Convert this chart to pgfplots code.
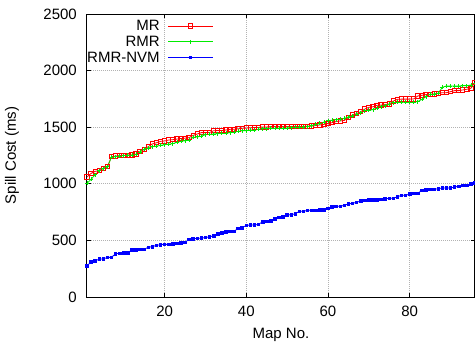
\documentclass[border=0pt]{standalone}
\usepackage{fontspec}
\setmainfont{Liberation Sans}
\usepackage{pgfplots}
\pgfplotsset{compat=1.18}
\definecolor{gpred}{RGB}{255,0,0}
\definecolor{gpgreen}{RGB}{0,235,0}
\definecolor{gpblue}{RGB}{0,0,255}
\begin{document}
\begin{tikzpicture}[font=\fontsize{15}{17}\selectfont]
\begin{axis}[
  at={(0,0)}, anchor=south west,
  scale only axis, width=388pt, height=283pt,
  xmin=1, xmax=96, ymin=0, ymax=2500,
  xtick={20,40,60,80}, ytick={0,500,1000,1500,2000,2500},
  /pgf/number format/assume math mode=true,
  /pgf/number format/1000 sep={},
  grid=major, grid style={dash pattern=on 1pt off 1pt, gray!60, line width=0.7pt},
  tick align=inside, major tick length=4pt,
  tick style={black, line width=0.8pt},
  axis line style={line width=1pt},
  xticklabel style={inner sep=0pt, anchor=north, yshift=-9pt},
  yticklabel style={inner sep=0pt, anchor=east, xshift=-10pt},
  xlabel={Map No.}, ylabel={Spill Cost (ms)},
  xlabel style={at={(axis description cs:0.5,-0.1095)}, anchor=north, inner sep=0pt},
  ylabel style={at={(axis description cs:-0.175,0.5)}, anchor=south, inner sep=0pt},
  legend plot pos=right,
  legend cell align=right,
  legend image code/.code={\draw[mark repeat=2,mark phase=2,#1] plot coordinates {(0pt,0pt) (22.5pt,0pt) (45pt,0pt)};},
  legend style={at={(axis description cs:0,1)}, anchor=north west, xshift=-2pt, yshift=-4pt,
    draw=none, fill=none, inner sep=0pt,
    nodes={inner xsep=2pt, inner ysep=2pt, text height=10.7pt, text depth=1pt},
    column sep=6pt},
]
\addplot[gpred, line width=0.8pt, mark=square, mark size=2.2pt, mark options={line width=0.9pt}] coordinates {
(1,1060)(2,1092)(3,1110)(4,1116)(5,1137)(6,1151)(7,1240)(8,1245)(9,1250)(10,1252)
(11,1253)(12,1255)(13,1262)(14,1284)(15,1305)(16,1328)(17,1352)(18,1363)(19,1375)(20,1378)
(21,1387)(22,1390)(23,1395)(24,1400)(25,1403)(26,1408)(27,1428)(28,1440)(29,1452)(30,1452)
(31,1453)(32,1469)(33,1470)(34,1470)(35,1475)(36,1481)(37,1482)(38,1486)(39,1490)(40,1492)
(41,1495)(42,1498)(43,1498)(44,1502)(45,1502)(46,1506)(47,1506)(48,1505)(49,1505)(50,1506)
(51,1506)(52,1506)(53,1507)(54,1507)(55,1508)(56,1510)(57,1515)(58,1520)(59,1525)(60,1533)
(61,1540)(62,1550)(63,1555)(64,1560)(65,1585)(66,1608)(67,1620)(68,1637)(69,1660)(70,1676)
(71,1680)(72,1693)(73,1695)(74,1700)(75,1705)(76,1731)(77,1746)(78,1748)(79,1748)(80,1748)
(81,1750)(82,1776)(83,1782)(84,1788)(85,1790)(86,1794)(87,1799)(88,1805)(89,1805)(90,1814)
(91,1823)(92,1823)(93,1829)(94,1835)(95,1844)(96,1895)
};
\addlegendentry{MR}
\addplot[gpgreen, line width=0.8pt, mark=+, mark size=2pt, mark options={line width=0.7pt}] coordinates {
(1,1004)(2,1040)(3,1080)(4,1116)(5,1135)(6,1150)(7,1235)(8,1240)(9,1245)(10,1250)
(11,1252)(12,1255)(13,1260)(14,1282)(15,1305)(16,1315)(17,1328)(18,1332)(19,1340)(20,1345)
(21,1350)(22,1355)(23,1366)(24,1375)(25,1380)(26,1385)(27,1410)(28,1415)(29,1420)(30,1434)
(31,1437)(32,1440)(33,1443)(34,1446)(35,1446)(36,1452)(37,1458)(38,1463)(39,1469)(40,1470)
(41,1475)(42,1475)(43,1481)(44,1487)(45,1487)(46,1490)(47,1490)(48,1490)(49,1492)(50,1494)
(51,1496)(52,1498)(53,1500)(54,1502)(55,1505)(56,1515)(57,1525)(58,1535)(59,1545)(60,1557)
(61,1562)(62,1568)(63,1572)(64,1578)(65,1590)(66,1600)(67,1615)(68,1628)(69,1645)(70,1650)
(71,1655)(72,1668)(73,1681)(74,1690)(75,1702)(76,1716)(77,1720)(78,1720)(79,1720)(80,1720)
(81,1722)(82,1727)(83,1746)(84,1769)(85,1790)(86,1792)(87,1800)(88,1852)(89,1864)(90,1864)
(91,1864)(92,1864)(93,1866)(94,1866)(95,1873)(96,1885)
};
\addlegendentry{RMR}
\addplot[gpblue, line width=0.8pt, mark=square*, mark size=1.3pt] coordinates {
(1,276)(2,309)(3,318)(4,336)(5,336)(6,350)(7,350)(8,383)(9,386)(10,390)
(11,392)(12,415)(13,418)(14,420)(15,422)(16,439)(17,445)(18,456)(19,462)(20,465)
(21,465)(22,470)(23,474)(24,480)(25,483)(26,510)(27,515)(28,518)(29,520)(30,525)
(31,532)(32,540)(33,560)(34,565)(35,575)(36,578)(37,580)(38,606)(39,612)(40,633)
(41,636)(42,636)(43,642)(44,665)(45,668)(46,671)(47,692)(48,704)(49,707)(50,724)
(51,727)(52,735)(53,757)(54,757)(55,766)(56,766)(57,766)(58,769)(59,772)(60,783)
(61,795)(62,801)(63,801)(64,810)(65,822)(66,828)(67,836)(68,848)(69,854)(70,857)
(71,860)(72,860)(73,863)(74,868)(75,872)(76,872)(77,886)(78,898)(79,898)(80,910)
(81,916)(82,916)(83,942)(84,945)(85,951)(86,951)(87,957)(88,963)(89,963)(90,963)
(91,972)(92,978)(93,986)(94,986)(95,998)(96,1010)
};
\addlegendentry{RMR-NVM}
\end{axis}
\pgfresetboundingbox
\path[use as bounding box] (-87pt,-44pt) rectangle (388pt,297pt);
\end{tikzpicture}
\end{document}
